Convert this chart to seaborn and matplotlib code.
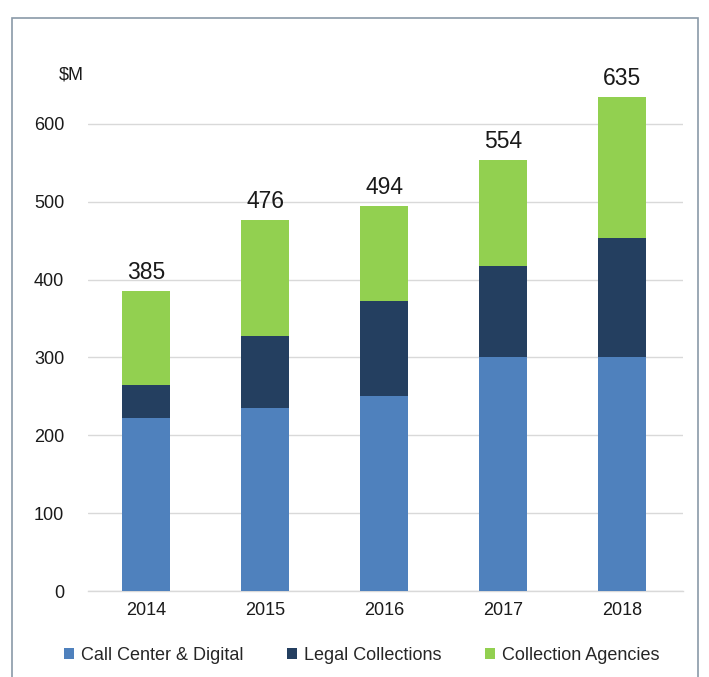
import numpy as np
import pandas as pd
import seaborn as sns
import matplotlib.pyplot as plt
from matplotlib.patches import Rectangle, Patch

years = ['2014', '2015', '2016', '2017', '2018']
call_center = [222, 235, 251, 301, 301]
legal = [43, 93, 122, 117, 153]
agencies = [120, 148, 121, 136, 181]
totals = [385, 476, 494, 554, 635]

series = ['Call Center & Digital', 'Legal Collections', 'Collection Agencies']
colors = ['#4F81BD', '#243F60', '#92D050']

df = pd.DataFrame({'year': years,
                   'call': call_center,
                   'legal': legal,
                   'agencies': agencies})
df['lvl1'] = df['call']
df['lvl2'] = df['call'] + df['legal']
df['lvl3'] = df['lvl2'] + df['agencies']

sns.set_style('white')
plt.rcParams['font.family'] = ['Liberation Sans', 'DejaVu Sans']

fig = plt.figure(figsize=(7.09, 6.77), dpi=100)
ax = fig.add_axes([0.124, 0.127, 0.839, 0.805])

# draw tallest layer first so the lower ones sit on top
for col, c in zip(['lvl3', 'lvl2', 'lvl1'], colors[::-1]):
    sns.barplot(data=df, x='year', y=col, color=c, width=0.4,
                saturation=1, linewidth=0, ax=ax, zorder=3)

for i, t in enumerate(totals):
    ax.text(i, t + 9, str(t), ha='center', va='bottom', fontsize=16.5,
            color='#1a1a1a')

ax.set_ylim(0, 700)
ax.set_xlim(-0.49, 4.51)
ax.set_yticks([0, 100, 200, 300, 400, 500, 600])
ax.yaxis.grid(True, color='#d9d9d9', linewidth=1, zorder=0)
ax.set_axisbelow(True)
for s in ['top', 'right', 'left']:
    ax.spines[s].set_visible(False)
ax.spines['bottom'].set_color('#d9d9d9')
ax.spines['bottom'].set_linewidth(1)
ax.set_xlabel('')
ax.set_ylabel('')
ax.tick_params(axis='both', length=0, labelsize=13, colors='#1a1a1a')
ax.tick_params(axis='x', pad=8)
ax.tick_params(axis='y', pad=17)

fig.text(0.083, 0.889, '$M', fontsize=13, color='#1a1a1a', ha='left', va='center')

handles = [Patch(facecolor=c, edgecolor='none') for c in colors]
fig.legend(handles, series, loc='center', bbox_to_anchor=(0.51, 0.032),
           ncol=3, frameon=False, fontsize=13, handlelength=0.55,
           handleheight=0.55, handletextpad=0.4, columnspacing=2.4)

fig.patches.append(Rectangle((0.017, -0.05), 0.967, 1.023, transform=fig.transFigure,
                             fill=False, edgecolor='#8a9aa8', linewidth=1.2))

fig.savefig('out.png', dpi=100)
